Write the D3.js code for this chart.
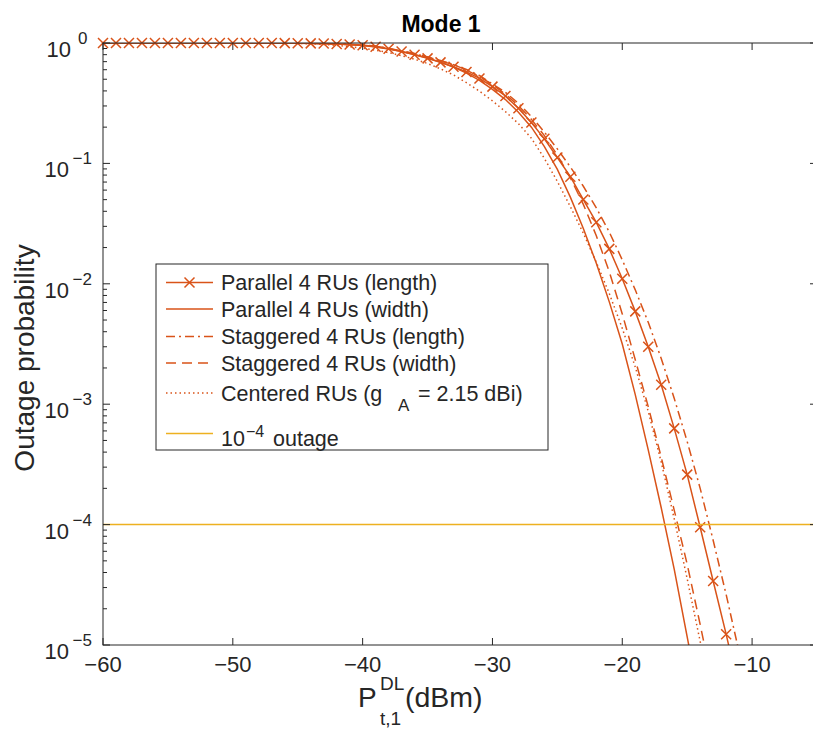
<!DOCTYPE html>
<html>
<head>
<meta charset="utf-8">
<script src="https://cdn.jsdelivr.net/npm/d3@7"></script>
<style>
body { margin: 0; background: #fff; }
text { font-family: "Liberation Sans", Arial, sans-serif; fill: #262626; }
</style>
</head>
<body>
<script>
// transmit power grid (dBm)
var power_dBm = [-60, -59, -58, -57, -56, -55, -54, -53, -52, -51, -50, -49, -48, -47, -46, -45, -44, -43, -42, -41,
    -40, -39, -38, -37, -36, -35, -34, -33, -32, -31, -30, -29, -28, -27, -26, -25, -24, -23, -22, -21,
    -20, -19, -18, -17, -16, -15, -14, -13, -12, -11, -10];

// outage probability per series
var parallel_length = [1, 1, 1, 1, 1, 1, 1, 1, 1, 1, 1, 1, 1, 0.999, 0.998, 0.996, 0.993, 0.989, 0.982, 0.972,
    0.957, 0.93, 0.895, 0.85, 0.80, 0.745, 0.69, 0.635, 0.575, 0.508, 0.434, 0.363, 0.287, 0.219, 0.16, 0.112,
    0.0776, 0.0501, 0.0324, 0.0195, 0.011, 0.0059, 0.003, 0.00145, 6.3e-4, 2.6e-4, 9.5e-5, 3.4e-5, 1.23e-5, 4.2e-6];
var parallel_width = [1, 1, 1, 1, 1, 1, 1, 1, 1, 1, 1, 1, 1, 0.999, 0.998, 0.995, 0.991, 0.986, 0.979, 0.969,
    0.955, 0.927, 0.891, 0.851, 0.804, 0.75, 0.692, 0.631, 0.562, 0.49, 0.412, 0.339, 0.266, 0.2, 0.138, 0.0891,
    0.0525, 0.0288, 0.0148, 0.00708, 0.00316, 0.0012, 4.17e-4, 1.38e-4, 4.27e-5, 1.17e-5, 3.16e-6];
var staggered_length = [1, 1, 1, 1, 1, 1, 1, 1, 1, 1, 1, 1, 1, 0.999, 0.998, 0.997, 0.994, 0.99, 0.984, 0.975,
    0.966, 0.944, 0.902, 0.851, 0.813, 0.767, 0.708, 0.661, 0.603, 0.537, 0.457, 0.389, 0.316, 0.245, 0.182, 0.132,
    0.0933, 0.0646, 0.0427, 0.0269, 0.0158, 0.00891, 0.00479, 0.0024, 0.00112, 4.9e-4, 2.0e-4, 7.41e-5, 2.63e-5,
    8.71e-6, 2.82e-6];
var staggered_width = [1, 1, 1, 1, 1, 1, 1, 1, 1, 1, 1, 1, 1, 0.999, 0.998, 0.996, 0.993, 0.989, 0.982, 0.972,
    0.959, 0.938, 0.902, 0.861, 0.817, 0.767, 0.716, 0.661, 0.596, 0.525, 0.452, 0.376, 0.302, 0.232, 0.17, 0.117,
    0.0759, 0.0457, 0.0251, 0.0126, 0.00562, 0.00234, 9.55e-4, 3.63e-4, 1.32e-4, 4.68e-5, 1.48e-5, 4.47e-6];
var centered = [1, 1, 1, 1, 1, 1, 1, 1, 1, 1, 1, 1, 1, 0.999, 0.997, 0.991, 0.984, 0.973, 0.955, 0.933,
    0.906, 0.871, 0.832, 0.785, 0.733, 0.676, 0.61, 0.543, 0.468, 0.398, 0.331, 0.269, 0.214, 0.162, 0.11, 0.0708,
    0.0437, 0.0263, 0.0151, 0.0083, 0.00427, 0.00204, 8.71e-4, 3.31e-4, 1.12e-4, 3.55e-5, 1.07e-5, 3.16e-6];
var outage_target = 1e-4;

var legend_labels = ["Parallel 4 RUs (length)", "Parallel 4 RUs (width)", "Staggered 4 RUs (length)",
    "Staggered 4 RUs (width)", "Centered RUs (g", "outage"];
var x_ticks = [-60, -50, -40, -30, -20, -10, -5];
var y_exponents = [0, -1, -2, -3, -4, -5];

var orange = "#D95319";
var yellow = "#EDB120";

var w = 813, h = 736;
var pL = 103, pR = 817, pT = 43, pB = 645;

var svg = d3.select("body").append("svg")
    .attr("width", w)
    .attr("height", h);

var x = d3.scaleLinear().domain([-60, -5]).range([pL, pR]);
var y = d3.scaleLog().domain([1e-5, 1]).range([pB, pT]);

svg.append("clipPath").attr("id", "plotclip")
    .append("rect").attr("x", pL).attr("y", pT).attr("width", pR - pL).attr("height", pB - pT);

function pts(vals) {
    return vals.map(function (v, i) { return [power_dBm[i], v]; });
}
var line = d3.line()
    .x(function (d) { return x(d[0]); })
    .y(function (d) { return y(d[1]); });

var series = [
    {vals: parallel_length, dash: null, marker: true},
    {vals: parallel_width, dash: null},
    {vals: staggered_length, dash: "9,4,2,4"},
    {vals: staggered_width, dash: "10,6"},
    {vals: centered, dash: "1.5,3"}
];

var plot = svg.append("g").attr("clip-path", "url(#plotclip)");
series.forEach(function (s) {
    plot.append("path")
        .datum(pts(s.vals))
        .attr("d", line)
        .attr("fill", "none")
        .attr("stroke", orange)
        .attr("stroke-width", 1.5)
        .attr("stroke-dasharray", s.dash);
});

// x markers, only inside the axis limits
var mk = pts(parallel_length).filter(function (d) { return d[1] >= 1e-5; });
svg.append("g").selectAll("path")
    .data(mk).enter()
    .append("path")
    .attr("d", function (d) {
        var cx = x(d[0]), cy = y(d[1]), r = 5;
        return "M" + (cx - r) + "," + (cy - r) + "L" + (cx + r) + "," + (cy + r) +
            "M" + (cx - r) + "," + (cy + r) + "L" + (cx + r) + "," + (cy - r);
    })
    .attr("stroke", orange)
    .attr("stroke-width", 1.5);

// 10^-4 outage line
svg.append("line")
    .attr("x1", pL).attr("x2", pR)
    .attr("y1", y(outage_target)).attr("y2", y(outage_target))
    .attr("stroke", yellow).attr("stroke-width", 1.5);

// axes box
var axc = "#262626";
svg.append("rect")
    .attr("x", pL).attr("y", pT).attr("width", pR - pL).attr("height", pB - pT)
    .attr("fill", "none").attr("stroke", axc).attr("stroke-width", 1);

// x ticks, inward on bottom and top
x_ticks.forEach(function (t) {
    svg.append("line").attr("x1", x(t)).attr("x2", x(t)).attr("y1", pB).attr("y2", pB - 7)
        .attr("stroke", axc);
    svg.append("line").attr("x1", x(t)).attr("x2", x(t)).attr("y1", pT).attr("y2", pT + 7)
        .attr("stroke", axc);
});
svg.append("g").selectAll("text")
    .data(x_ticks.slice(0, 6)).enter()
    .append("text")
    .attr("x", function (d) { return x(d); })
    .attr("y", 672)
    .attr("text-anchor", "middle")
    .style("font-size", "22px")
    .text(function (d) { return "\u2212" + Math.abs(d); });

// y ticks major and minor
y_exponents.forEach(function (e) {
    var v = Math.pow(10, e);
    svg.append("line").attr("x1", pL).attr("x2", pL + 7).attr("y1", y(v)).attr("y2", y(v)).attr("stroke", axc);
    svg.append("line").attr("x1", pR).attr("x2", pR - 7).attr("y1", y(v)).attr("y2", y(v)).attr("stroke", axc);
    if (e > -5) {
        for (var m = 2; m <= 9; m++) {
            var mv = m * Math.pow(10, e - 1);
            svg.append("line").attr("x1", pL).attr("x2", pL + 4).attr("y1", y(mv)).attr("y2", y(mv)).attr("stroke", axc);
            svg.append("line").attr("x1", pR).attr("x2", pR - 4).attr("y1", y(mv)).attr("y2", y(mv)).attr("stroke", axc);
        }
    }
});
var yl = svg.append("g").selectAll("g")
    .data(y_exponents).enter()
    .append("g");
yl.append("text")
    .attr("x", function (d) { return d === 0 ? 71 : 69; })
    .attr("y", function (d) { return y(Math.pow(10, d)) + 14; })
    .attr("text-anchor", "end")
    .style("font-size", "22px")
    .text("10");
yl.append("text")
    .attr("x", function (d) { return d === 0 ? 78 : 72.5; })
    .attr("y", function (d) { return y(Math.pow(10, d)) + 1; })
    .style("font-size", "17px")
    .text(function (d) { return d === 0 ? "0" : "\u2212" + Math.abs(d); });

// title and axis labels
svg.append("text")
    .attr("x", 441).attr("y", 32)
    .attr("text-anchor", "middle")
    .style("font-size", "23px").style("font-weight", "bold").style("fill", "#000")
    .text("Mode 1");

svg.append("text")
    .attr("transform", "translate(34,358) rotate(-90)")
    .attr("text-anchor", "middle")
    .style("font-size", "28px")
    .text("Outage probability");

svg.append("text").attr("x", 358).attr("y", 707).style("font-size", "28px").text("P");
svg.append("text").attr("x", 380).attr("y", 690).style("font-size", "19px").text("DL");
svg.append("text").attr("x", 380).attr("y", 725).style("font-size", "19px").text("t,1");
svg.append("text").attr("x", 405).attr("y", 707).style("font-size", "28.5px").text("(dBm)");

// legend
var lg = svg.append("g");
lg.append("rect")
    .attr("x", 156).attr("y", 264).attr("width", 392).attr("height", 186)
    .attr("fill", "#fff").attr("stroke", axc).attr("stroke-width", 1);
var rowY = [282.5, 309, 336.5, 363, 393, 433.5];
var lgStyle = [
    {c: orange, dash: null, marker: true},
    {c: orange, dash: null},
    {c: orange, dash: "9,4,2,4"},
    {c: orange, dash: "10,6"},
    {c: orange, dash: "1.5,3"},
    {c: yellow, dash: null}
];
lgStyle.forEach(function (s, i) {
    lg.append("line")
        .attr("x1", 166).attr("x2", 213).attr("y1", rowY[i]).attr("y2", rowY[i])
        .attr("stroke", s.c).attr("stroke-width", 1.5).attr("stroke-dasharray", s.dash);
    if (s.marker) {
        var cx = 189.5, cy = rowY[i], r = 5;
        lg.append("path")
            .attr("d", "M" + (cx - r) + "," + (cy - r) + "L" + (cx + r) + "," + (cy + r) +
                "M" + (cx - r) + "," + (cy + r) + "L" + (cx + r) + "," + (cy - r))
            .attr("stroke", s.c).attr("stroke-width", 1.5);
    }
});
for (var i = 0; i < 4; i++) {
    lg.append("text").attr("x", 221).attr("y", rowY[i] + 7.5).style("font-size", "21.5px").text(legend_labels[i]);
}
var ct = lg.append("text").attr("x", 221).attr("y", rowY[4] + 7.5).style("font-size", "21.5px");
ct.append("tspan").text(legend_labels[4]);
ct.append("tspan").attr("x", 398).attr("dy", 10).style("font-size", "17px").text("A");
ct.append("tspan").attr("x", 418).attr("dy", -10).text("= 2.15 dBi)");
var ot = lg.append("text").attr("x", 221).attr("y", rowY[5] + 12).style("font-size", "21.5px");
ot.append("tspan").text("10");
ot.append("tspan").attr("x", 246).attr("dy", -9).style("font-size", "16px").text("\u22124");
ot.append("tspan").attr("x", 273).attr("dy", 9).text("outage");
</script>
</body>
</html>
